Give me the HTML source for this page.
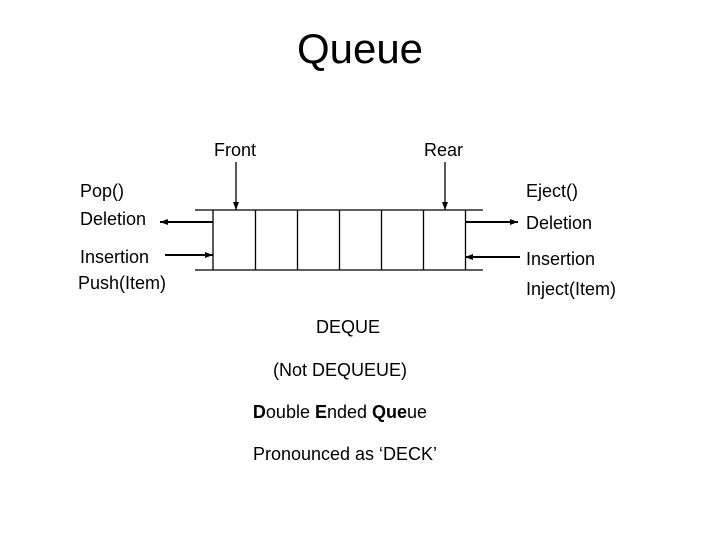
<!DOCTYPE html>
<html><head><style>
body{margin:0;width:720px;height:540px;background:#fff;position:relative;overflow:hidden;font-family:"Liberation Sans",sans-serif;color:#000}
.t{position:absolute;font-size:18px;line-height:1;white-space:nowrap}
</style></head><body>
<div class="t" style="left:0;width:720px;text-align:center;top:28px;font-size:42px">Queue</div>
<div class="t" style="left:214px;top:141px">Front</div>
<div class="t" style="left:424px;top:141px">Rear</div>
<div class="t" style="left:80px;top:182px">Pop()</div>
<div class="t" style="left:80px;top:210px">Deletion</div>
<div class="t" style="left:80px;top:248px">Insertion</div>
<div class="t" style="left:78px;top:274px">Push(Item)</div>
<div class="t" style="left:526px;top:182px">Eject()</div>
<div class="t" style="left:526px;top:214px">Deletion</div>
<div class="t" style="left:526px;top:250px">Insertion</div>
<div class="t" style="left:526px;top:280px">Inject(Item)</div>
<div class="t" style="left:0;width:696px;text-align:center;top:318px">DEQUE</div>
<div class="t" style="left:0;width:680px;text-align:center;top:361px">(Not DEQUEUE)</div>
<div class="t" style="left:0;width:680px;text-align:center;top:403px"><b>D</b>ouble <b>E</b>nded <b>Que</b>ue</div>
<div class="t" style="left:0;width:690px;text-align:center;top:445px">Pronounced as ‘DECK’</div>
<svg width="720" height="540" style="position:absolute;left:0;top:0">
<defs><marker id="a" markerWidth="8" markerHeight="6" refX="8" refY="3" orient="auto" markerUnits="userSpaceOnUse"><path d="M0,0L8,3L0,6z"/></marker></defs>
<g stroke="#000" stroke-width="1.3" fill="none">
<line x1="195" y1="210" x2="483" y2="210"/>
<line x1="195" y1="270" x2="483" y2="270"/>
<line x1="213" y1="210" x2="213" y2="270"/>
<line x1="255.5" y1="210" x2="255.5" y2="270"/>
<line x1="297.5" y1="210" x2="297.5" y2="270"/>
<line x1="339.5" y1="210" x2="339.5" y2="270"/>
<line x1="381.5" y1="210" x2="381.5" y2="270"/>
<line x1="423.5" y1="210" x2="423.5" y2="270"/>
<line x1="465.5" y1="210" x2="465.5" y2="270"/>
<line x1="236" y1="162" x2="236" y2="210" marker-end="url(#a)"/>
<line x1="445" y1="162" x2="445" y2="210" marker-end="url(#a)"/>
<line x1="213" y1="222" x2="160" y2="222" stroke-width="2" marker-end="url(#a)"/>
<line x1="165" y1="255" x2="213" y2="255" stroke-width="2" marker-end="url(#a)"/>
<line x1="465" y1="222" x2="518" y2="222" stroke-width="2" marker-end="url(#a)"/>
<line x1="520" y1="257" x2="465" y2="257" stroke-width="2" marker-end="url(#a)"/>
</g></svg>
</body></html>
